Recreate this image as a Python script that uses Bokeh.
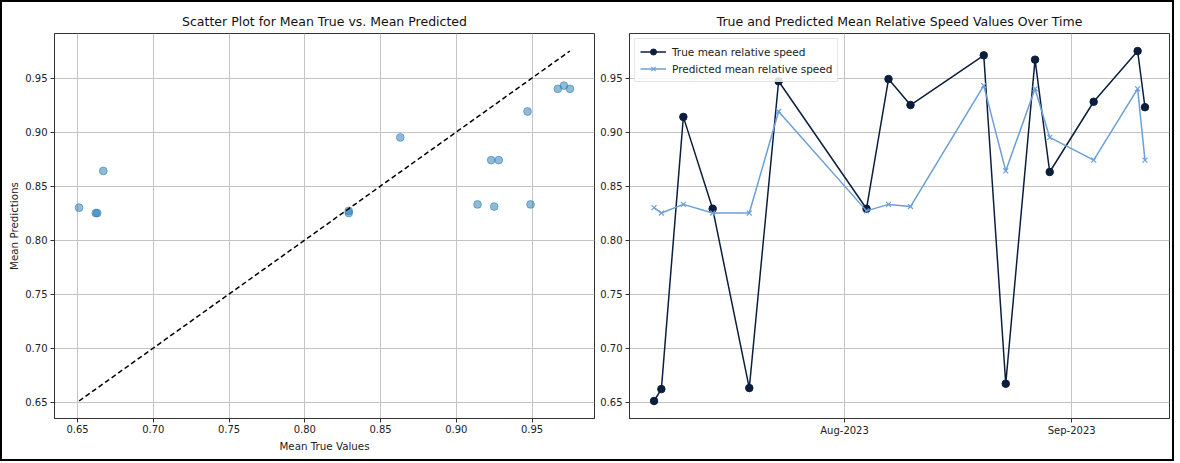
import datetime as dt
from bokeh.plotting import figure
from bokeh.models import Range1d, FixedTicker, Legend, LegendItem, Row, PrintfTickFormatter
from bokeh.embed import file_html
from bokeh.resources import INLINE

# ---- data ----
dates = ["2023-07-06", "2023-07-07", "2023-07-10", "2023-07-14", "2023-07-19", "2023-07-23",
         "2023-08-04", "2023-08-07", "2023-08-10", "2023-08-20", "2023-08-23", "2023-08-27",
         "2023-08-29", "2023-09-04", "2023-09-10", "2023-09-11"]
true_vals = [0.651, 0.662, 0.914, 0.829, 0.663, 0.947, 0.829, 0.949, 0.925, 0.971, 0.667,
             0.967, 0.863, 0.928, 0.975, 0.923]
pred_vals = [0.830, 0.825, 0.833, 0.825, 0.825, 0.919, 0.827, 0.833, 0.831, 0.943, 0.864,
             0.940, 0.895, 0.874, 0.940, 0.874]
month_ticks = ["2023-08-01", "2023-09-01"]
month_labels = ["Aug-2023", "Sep-2023"]
left_ticks = [0.65, 0.70, 0.75, 0.80, 0.85, 0.90, 0.95]

FONT = "DejaVu Sans"
GRID = "#c4c4c4"
SPINE = "#333333"

def pad(lo, hi, frac=0.05):
    s = hi - lo
    return lo - frac * s, hi + frac * s

lo_v = min(true_vals + pred_vals)
hi_v = max(true_vals + pred_vals)
ylo, yhi = pad(lo_v, hi_v)

def style(p):
    p.title.text_font = FONT
    p.title.text_font_size = "12.5px"
    p.title.text_font_style = "normal"
    p.title.align = "center"
    p.title.text_color = "#111111"
    p.outline_line_color = SPINE
    p.outline_line_width = 1
    for ax in (p.xaxis, p.yaxis):
        ax.axis_line_color = SPINE
        ax.major_tick_line_color = SPINE
        ax.major_tick_out = 4
        ax.major_tick_in = 0
        ax.minor_tick_line_color = None
        ax.major_label_text_font = FONT
        ax.major_label_text_font_size = "10px"
        ax.major_label_text_color = "#222222"
        ax.axis_label_text_font = FONT
        ax.axis_label_text_font_size = "10.3px"
        ax.axis_label_text_font_style = "normal"
        ax.axis_label_text_color = "#222222"
        ax.major_label_standoff = 3
    p.xaxis.major_label_standoff = 2
    p.grid.grid_line_color = GRID
    p.grid.grid_line_width = 1
    p.background_fill_color = "white"
    p.border_fill_color = "white"

# ---- left: scatter ----
xlo, xhi = pad(min(true_vals), max(true_vals))
p1 = figure(frame_width=540, frame_height=385, min_border_left=52, min_border_right=2,
            min_border_top=31, min_border_bottom=41,
            x_range=Range1d(xlo, xhi), y_range=Range1d(ylo, yhi),
            title="Scatter Plot for Mean True vs. Mean Predicted",
            output_backend="svg", toolbar_location=None)
style(p1)
p1.xaxis.ticker = FixedTicker(ticks=left_ticks)
p1.yaxis.ticker = FixedTicker(ticks=left_ticks)
p1.xaxis.formatter = PrintfTickFormatter(format="%.2f")
p1.yaxis.formatter = PrintfTickFormatter(format="%.2f")
p1.xaxis.axis_label = "Mean True Values"
p1.yaxis.axis_label = "Mean Predictions"
p1.xaxis.axis_label_standoff = 4
p1.yaxis.axis_label_standoff = 2
p1.scatter(true_vals, pred_vals, size=7.8, color="#1f77b4", alpha=0.5)
p1.line([min(true_vals), max(true_vals)], [min(true_vals), max(true_vals)],
        line_color="black", line_width=1.5, line_dash="5 3")

# ---- right: time series ----
dts = [dt.datetime.strptime(d, "%Y-%m-%d") for d in dates]
d0, d1 = min(dts), max(dts)
span = d1 - d0
p2 = figure(frame_width=540, frame_height=385, min_border_left=33, min_border_right=3,
            min_border_top=31, min_border_bottom=41, x_axis_type="datetime",
            x_range=Range1d(d0 - span * 0.05, d1 + span * 0.05), y_range=Range1d(ylo, yhi),
            title="True and Predicted Mean Relative Speed Values Over Time",
            output_backend="svg", toolbar_location=None)
style(p2)
tick_ms = [dt.datetime.strptime(t, "%Y-%m-%d").replace(tzinfo=dt.timezone.utc).timestamp() * 1000
           for t in month_ticks]
p2.xaxis.ticker = FixedTicker(ticks=tick_ms)
p2.xaxis.major_label_overrides = {t: l for t, l in zip(tick_ms, month_labels)}
p2.yaxis.ticker = FixedTicker(ticks=left_ticks)
p2.yaxis.formatter = PrintfTickFormatter(format="%.2f")

TRUE_C = "#0c1e3e"
PRED_C = "#6a9fd8"
l1 = p2.line(dts, true_vals, line_color=TRUE_C, line_width=1.5)
m1 = p2.scatter(dts, true_vals, size=7.5, color=TRUE_C)
l2 = p2.line(dts, pred_vals, line_color=PRED_C, line_width=1.5)
m2 = p2.scatter(dts, pred_vals, marker="x", size=7, line_color=PRED_C, line_width=1.2)

legend = Legend(items=[LegendItem(label="True mean relative speed", renderers=[l1, m1]),
                       LegendItem(label="Predicted mean relative speed", renderers=[l2, m2])],
                location="top_left")
legend.label_text_font = FONT
legend.label_text_font_size = "10.5px"
legend.label_text_color = "#222222"
legend.border_line_color = "#cccccc"
legend.border_line_width = 1
legend.background_fill_alpha = 0.85
legend.margin = 5
legend.padding = 5
legend.spacing = 2
legend.glyph_width = 26
legend.glyph_height = 15
legend.label_height = 15
legend.label_standoff = 6
p2.add_layout(legend)

layout = Row(children=[p1, p2],
             styles={"border": "2px solid black", "background-color": "white"})

open("out.html", "w").write(file_html(layout, INLINE))
